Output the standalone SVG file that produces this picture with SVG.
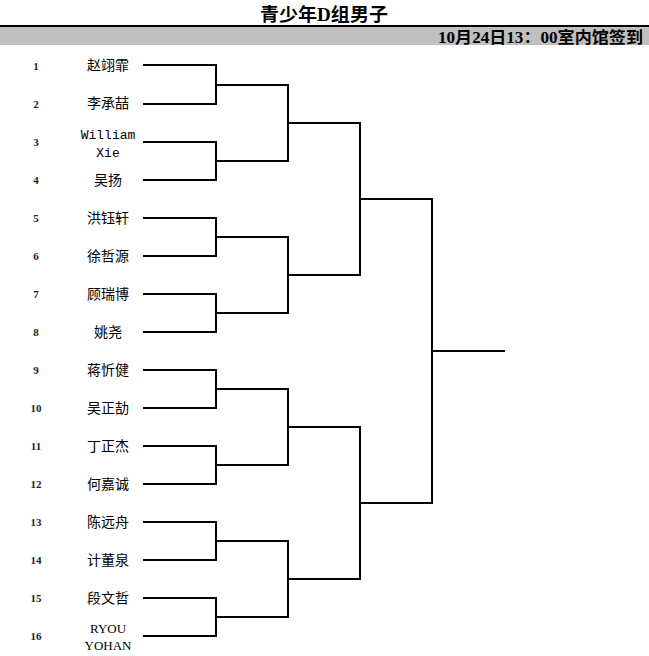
<svg xmlns="http://www.w3.org/2000/svg" width="649" height="656" viewBox="0 0 649 656">
<style>
.t{font-family:"Liberation Serif","Noto Sans CJK SC",serif;font-weight:bold;fill:#000}
.n{font-family:"Liberation Serif",serif;font-size:11px;font-weight:bold;fill:#222;text-anchor:middle}
.p{font-family:"Noto Sans CJK SC",sans-serif;font-size:14px;fill:#000;text-anchor:middle}
.m{font-family:"Liberation Mono",monospace;font-size:13px;fill:#000;text-anchor:middle}
.s{font-family:"Liberation Serif",serif;font-size:13px;fill:#000;text-anchor:middle}
.c{fill:none;stroke:#000;stroke-width:2;stroke-linecap:square}
</style>
<rect width="649" height="656" fill="#fff"/>
<g id="header">
<text class="t" x="324" y="21" font-size="18" text-anchor="middle" textLength="128" lengthAdjust="spacingAndGlyphs">青少年D组男子</text>
<rect x="0" y="25" width="649" height="2" fill="#000"/>
<rect x="0" y="27" width="649" height="18" fill="#c0c0c0"/>
<text class="t" x="643" y="43" font-size="16" text-anchor="end" textLength="205" lengthAdjust="spacingAndGlyphs">10月24日13：00室内馆签到</text>
</g>
<g id="p1"><text class="n" x="36" y="70">1</text><text class="p" x="108" y="70">赵翊霏</text></g>
<g id="p2"><text class="n" x="36" y="108">2</text><text class="p" x="108" y="108">李承喆</text></g>
<g id="p3"><text class="n" x="36" y="146">3</text><text class="m" x="108" y="139">William</text><text class="m" x="108" y="157">Xie</text></g>
<g id="p4"><text class="n" x="36" y="184">4</text><text class="p" x="108" y="185">吴扬</text></g>
<g id="p5"><text class="n" x="36" y="222">5</text><text class="p" x="108" y="223">洪钰轩</text></g>
<g id="p6"><text class="n" x="36" y="260">6</text><text class="p" x="108" y="261">徐哲源</text></g>
<g id="p7"><text class="n" x="36" y="298">7</text><text class="p" x="108" y="299">顾瑞博</text></g>
<g id="p8"><text class="n" x="36" y="336">8</text><text class="p" x="108" y="337">姚尧</text></g>
<g id="p9"><text class="n" x="36" y="374">9</text><text class="p" x="108" y="375">蒋忻健</text></g>
<g id="p10"><text class="n" x="36" y="412">10</text><text class="p" x="108" y="413">吴正劼</text></g>
<g id="p11"><text class="n" x="36" y="450">11</text><text class="p" x="108" y="451">丁正杰</text></g>
<g id="p12"><text class="n" x="36" y="488">12</text><text class="p" x="108" y="489">何嘉诚</text></g>
<g id="p13"><text class="n" x="36" y="526">13</text><text class="p" x="108" y="527">陈远舟</text></g>
<g id="p14"><text class="n" x="36" y="564">14</text><text class="p" x="108" y="565">计董泉</text></g>
<g id="p15"><text class="n" x="36" y="602">15</text><text class="p" x="108" y="603">段文哲</text></g>
<g id="p16"><text class="n" x="36" y="640">16</text><text class="s" x="108" y="633">RYOU</text><text class="s" x="108" y="650">YOHAN</text></g>
<g id="connectors">
<path class="c" d="M144,65H216V104H144M216,85H288"/>
<path class="c" d="M144,142H216V180H144M216,161H288"/>
<path class="c" d="M144,218H216V256H144M216,237H288"/>
<path class="c" d="M144,294H216V332H144M216,313H288"/>
<path class="c" d="M144,370H216V408H144M216,389H288"/>
<path class="c" d="M144,446H216V484H144M216,465H288"/>
<path class="c" d="M144,522H216V560H144M216,541H288"/>
<path class="c" d="M144,598H216V636H144M216,617H288"/>
<path class="c" d="M288,85V161M288,123H360"/>
<path class="c" d="M288,237V313M288,275H360"/>
<path class="c" d="M288,389V465M288,427H360"/>
<path class="c" d="M288,541V617M288,579H360"/>
<path class="c" d="M360,123V275M360,199H432"/>
<path class="c" d="M360,427V579M360,503H432"/>
<path class="c" d="M432,199V503M432,351H504"/>
</g>
</svg>
